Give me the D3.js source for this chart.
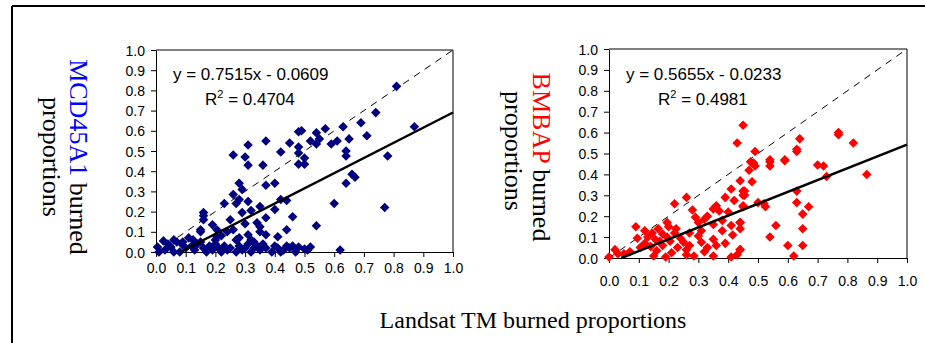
<!DOCTYPE html>
<html><head><meta charset="utf-8">
<script src="https://cdn.jsdelivr.net/npm/d3@7"></script>
<style>body{margin:0;background:#fff}svg{display:block}</style>
</head><body>
<script>
// ---- data ----
const tickValues = [0,0.1,0.2,0.3,0.4,0.5,0.6,0.7,0.8,0.9,1.0];
const mcdPoints = [
[0.81,0.82],[0.74,0.69],[0.87,0.62],[0.69,0.64],[0.63,0.62],[0.71,0.575],[0.65,0.56],[0.57,0.61],[0.54,0.59],[0.49,0.60],[0.55,0.56],[0.52,0.55],[0.54,0.535],[0.59,0.535],[0.61,0.55],[0.48,0.52],[0.48,0.595],[0.45,0.54],[0.42,0.495],[0.37,0.55],[0.31,0.53],[0.26,0.48],[0.30,0.47],[0.78,0.475],[0.64,0.50],[0.64,0.475],[0.50,0.465],[0.48,0.49],[0.48,0.435],[0.50,0.435],[0.31,0.43],[0.36,0.43],
[0.66,0.385],[0.67,0.37],[0.64,0.34],[0.60,0.24],[0.77,0.22],[0.46,0.175],[0.54,0.13],
[0.37,0.33],[0.28,0.34],[0.40,0.34],[0.29,0.31],[0.26,0.285],[0.28,0.26],[0.27,0.24],[0.31,0.25],[0.35,0.225],[0.32,0.205],[0.29,0.195],[0.23,0.24],[0.42,0.26],[0.44,0.255],[0.40,0.21],[0.16,0.195],[0.16,0.16],[0.16,0.18],[0.19,0.135],[0.25,0.16],[0.26,0.11],[0.24,0.10],[0.30,0.14],[0.34,0.145],[0.37,0.17],[0.35,0.125],[0.31,0.085],[0.35,0.10],[0.37,0.085],[0.44,0.11],[0.41,0.075],[0.15,0.10],[0.15,0.11],[0.06,0.06],[0.025,0.055],[0.27,0.06],[0.32,0.06],[0.28,0.07],[0.205,0.075],[0.205,0.11],[0.22,0.08],[0.11,0.07],[0.125,0.06],[0.09,0.05],[0.07,0.05],
[0.005,0.025],[0.01,0.0],[0.05,0.025],[0.09,0.035],[0.03,0.01],[0.08,0.0],[0.10,0.02],[0.12,0.03],[0.13,0.01],[0.14,0.04],[0.16,0.02],[0.17,0.0],[0.18,0.03],[0.19,0.01],[0.20,0.04],[0.21,0.02],[0.22,0.0],[0.23,0.03],[0.24,0.01],[0.25,0.02],[0.27,0.0],[0.28,0.03],[0.29,0.01],[0.30,0.02],[0.31,0.04],[0.32,0.0],[0.33,0.02],[0.34,0.03],[0.35,0.01],[0.36,0.04],[0.37,0.02],[0.39,0.0],[0.40,0.03],[0.41,0.02],[0.42,0.0],[0.43,0.01],[0.44,0.03],[0.45,0.02],[0.46,0.03],[0.47,0.0],[0.48,0.025],[0.50,0.015],[0.52,0.025],[0.51,0.01],[0.62,0.01],[0.04,0.04],[0.06,0.0],[0.15,0.05],[0.20,0.06],[0.33,0.05]
];
const bmbapPoints = [
[0.45,0.635],[0.43,0.55],[0.77,0.59],[0.77,0.60],[0.82,0.55],[0.64,0.57],[0.63,0.52],[0.49,0.51],[0.54,0.47],[0.59,0.47],
[0.63,0.51],[0.485,0.455],[0.49,0.44],[0.54,0.46],[0.54,0.44],[0.59,0.465],[0.70,0.445],[0.72,0.44],[0.73,0.39],[0.865,0.40],[0.48,0.365],[0.45,0.32],[0.45,0.30],[0.45,0.25],[0.63,0.32],[0.63,0.265],[0.67,0.245],[0.50,0.265],[0.52,0.26],[0.525,0.245],[0.65,0.21],[0.44,0.17],[0.44,0.14],[0.56,0.155],[0.65,0.14],[0.54,0.10],[0.60,0.06],[0.65,0.06],[0.62,0.01],[0.44,0.04],
[0.475,0.46],[0.26,0.29],[0.22,0.26],[0.28,0.23],[0.09,0.15],[0.39,0.29],[0.42,0.275],[0.455,0.32],[0.455,0.30],[0.36,0.25],[0.35,0.235],[0.37,0.225],[0.40,0.22],[0.45,0.245],[0.29,0.195],[0.32,0.185],[0.30,0.17],[0.195,0.17],[0.20,0.15],[0.165,0.14],[0.12,0.13],[0.145,0.12],[0.18,0.115],[0.225,0.14],[0.27,0.12],[0.31,0.13],[0.35,0.16],[0.38,0.13],[0.41,0.155],[0.44,0.17],[0.415,0.11],[0.35,0.09],[0.36,0.06],[0.33,0.05],[0.31,0.075],[0.27,0.06],[0.25,0.075],[0.23,0.05],[0.205,0.08],[0.18,0.06],[0.16,0.035],[0.14,0.055],[0.105,0.05],[0.095,0.095],[0.07,0.03],[0.05,0.02],[0.02,0.04],[0.0,0.005],[0.03,0.02],[0.15,0.01],[0.19,0.005],[0.21,0.025],[0.26,0.015],[0.285,0.01],[0.35,0.01],[0.41,0.005],[0.43,0.015],[0.44,0.04],[0.155,0.09],[0.195,0.10],[0.24,0.095],[0.30,0.105],
[0.47,0.42],[0.41,0.33],[0.44,0.37],[0.33,0.2],[0.38,0.18],[0.22,0.12],[0.12,0.07],[0.17,0.08],[0.26,0.04],[0.39,0.07],[0.13,0.1],[0.32,0.03]
];
const fitMCD = {slope:0.7515, intercept:-0.0609, eq:"y = 0.7515x - 0.0609", r2:"0.4704"};
const fitBMBAP = {slope:0.5655, intercept:-0.0233, eq:"y = 0.5655x - 0.0233", r2:"0.4981"};

// ---- drawing ----
const W=925,H=343;
const svg=d3.select("body").append("svg").attr("width",W).attr("height",H);
svg.append("rect").attr("width",W).attr("height",H).attr("fill","#fff");
svg.append("line").attr("x1",12).attr("x2",W).attr("y1",6).attr("y2",6).attr("stroke","#000").attr("stroke-width",2);
svg.append("line").attr("x1",12).attr("x2",12).attr("y1",6).attr("y2",H).attr("stroke","#000").attr("stroke-width",2);

function panel(cfg){
  const x=d3.scaleLinear().domain([0,1]).range([cfg.x0,cfg.x1]);
  const y=d3.scaleLinear().domain([0,1]).range([cfg.y0,cfg.y1]);
  const g=svg.append("g");
  g.append("path").attr("d",`M${cfg.x0},${cfg.y1}H${cfg.x1}V${cfg.y0}`).attr("fill","none").attr("stroke","#000").attr("stroke-width",1);
  const fmt=d3.format(".1f");
  const xa=g.append("g").attr("transform",`translate(0,${cfg.y0})`)
    .call(d3.axisBottom(x).tickValues(tickValues).tickFormat(fmt).tickSize(5).tickSizeOuter(0));
  const ya=g.append("g").attr("transform",`translate(${cfg.x0},0)`)
    .call(d3.axisLeft(y).tickValues(tickValues).tickFormat(fmt).tickSize(5).tickSizeOuter(0));
  [xa,ya].forEach(a=>{a.selectAll("text").attr("font-family","Liberation Sans, Arial, sans-serif").attr("font-size",14).attr("fill","#000");
    a.select(".domain").attr("stroke","#000");a.selectAll("line").attr("stroke","#000");});
  xa.selectAll("text").attr("dy",null).attr("y",cfg.xlabY);
  ya.selectAll("text").attr("x",-11).attr("dy","0.36em");
  g.append("line").attr("x1",x(0)).attr("y1",y(0)).attr("x2",x(1)).attr("y2",y(1))
    .attr("stroke","#000").attr("stroke-width",1).attr("stroke-dasharray","7,6");
  const sym=d3.symbol().type(d3.symbolDiamond2).size(58);
  g.append("g").selectAll("path").data(cfg.pts).join("path")
    .attr("d",sym).attr("transform",d=>`translate(${x(d[0])},${y(d[1])})`).attr("fill",cfg.color);
  const f=cfg.fit, xs=-f.intercept/f.slope;
  g.append("line").attr("x1",x(xs)).attr("y1",y(0)).attr("x2",x(1)).attr("y2",y(f.slope+f.intercept))
    .attr("stroke","#000").attr("stroke-width",2.5);
  const t=g.append("g").attr("font-family","Liberation Sans, Arial, sans-serif").attr("font-size",17).attr("fill","#000");
  t.append("text").attr("x",cfg.eqX).attr("y",80).text(f.eq);
  const r=t.append("text").attr("x",cfg.eqX+32).attr("y",105);
  r.append("tspan").text("R");
  r.append("tspan").attr("font-size",11).attr("dy",-7).text("2");
  r.append("tspan").attr("dy",7).text(" = "+f.r2);
  const yt=svg.append("g").attr("font-family","Liberation Serif, Times New Roman, serif").attr("font-size",26);
  const t1=yt.append("text").attr("transform",`translate(${cfg.tX},${cfg.tY}) rotate(90)`).attr("text-anchor","middle");
  t1.append("tspan").attr("fill",cfg.titleColor).text(cfg.name);
  t1.append("tspan").attr("fill","#000").text(" burned");
  yt.append("text").attr("transform",`translate(${cfg.tX-cfg.gap},${cfg.tY2}) rotate(90)`).attr("text-anchor","middle").text("proportions");
}
panel({x0:156,x1:453,y0:252,y1:50,pts:mcdPoints,color:"#000080",fit:fitMCD,eqX:173,xlabY:21,tX:70,gap:27,tY:157,tY2:157,name:"MCD45A1",titleColor:"#0000ff"});
panel({x0:609,x1:907,y0:258,y1:49,pts:bmbapPoints,color:"#ff0000",fit:fitBMBAP,eqX:626,xlabY:28,tX:533,gap:28,tY:157,tY2:151,name:"BMBAP",titleColor:"#ff0000"});

svg.append("text").attr("x",533).attr("y",328).attr("text-anchor","middle")
  .attr("font-family","Liberation Serif, Times New Roman, serif").attr("font-size",24).text("Landsat TM burned proportions");
</script>
</body></html>
